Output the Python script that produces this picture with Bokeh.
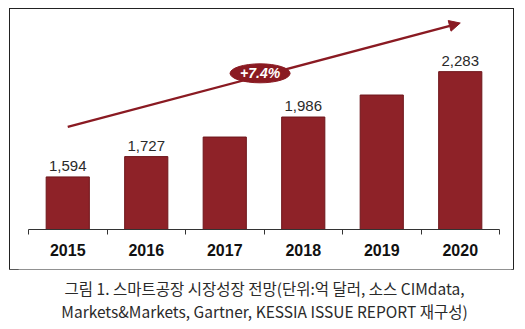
from bokeh.plotting import figure
from bokeh.models import (Range1d, FixedTicker, Arrow, NormalHead, Label,
                          ColumnDataSource)
from bokeh.layouts import column
from bokeh.embed import file_html
from bokeh.resources import INLINE

# ---- data ----
years = ["2015", "2016", "2017", "2018", "2019", "2020"]
values = [1594, 1727, 1855, 1986, 2130, 2283]
value_labels = ["1,594", "1,727", "", "1,986", "", "2,283"]
growth_label = "+7.4%"
arrow_start = (0.5, 1921)
arrow_end = (5.5, 2601)
badge_pos = (2.95, 2272)
caption_1 = "그림 1. 스마트공장 시장성장 전망(단위:억 달러, 소스 CIMdata,"
caption_2 = "Markets&Markets, Gartner, KESSIA ISSUE REPORT 재구성)"

RED = "#8e2228"
DARK = "#8a1a22"
Y0 = 1250

xs = [i + 0.5 for i in range(len(years))]
src = ColumnDataSource(dict(x=xs, top=values, lab=value_labels))

p = figure(width=503, height=260, output_backend="svg", toolbar_location=None,
           x_range=Range1d(0, 6), y_range=Range1d(Y0, 2670),
           min_border_left=18, min_border_right=14, min_border_top=3,
           min_border_bottom=40)
p.margin = (9, 0, 0, 10)
p.styles = {"outline": "1.5px solid #222222"}
p.outline_line_color = None
p.grid.grid_line_color = None
p.yaxis.visible = False

p.vbar(x="x", top="top", bottom=Y0, width=0.55, source=src,
       fill_color=RED, line_color="#6e161b", line_width=1)
p.text(x="x", y="top", text="lab", source=src, text_align="center",
       text_baseline="bottom", y_offset=-6, text_font_size="15px",
       text_color="#2a2a2a", text_font={"value": "Liberation Sans"})

arrow = Arrow(end=NormalHead(size=11, fill_color=DARK, line_color=DARK),
              x_start=arrow_start[0], y_start=arrow_start[1],
              x_end=arrow_end[0], y_end=arrow_end[1],
              line_color=DARK, line_width=2.4)
p.add_layout(arrow)

p.ellipse(x=[badge_pos[0]], y=[badge_pos[1]], width=[60], height=[19],
          width_units="screen", height_units="screen",
          fill_color=DARK, line_color=DARK, level="annotation")
p.add_layout(Label(x=badge_pos[0], y=badge_pos[1], text=growth_label,
                   text_align="center", text_baseline="middle",
                   text_color="white", text_font_size="14px",
                   text_font_style="bold italic",
                   text_font="Liberation Sans"))

ax = p.xaxis[0]
ax.ticker = FixedTicker(ticks=xs, minor_ticks=list(range(7)))
ax.major_label_overrides = {x: y for x, y in zip(xs, years)}
ax.major_tick_out = 0
ax.major_tick_in = 0
ax.minor_tick_out = 5
ax.minor_tick_in = 0
ax.axis_line_color = "#333333"
ax.minor_tick_line_color = "#333333"
ax.major_label_text_font = "Liberation Sans"
ax.major_label_text_font_style = "bold"
ax.major_label_text_font_size = "16px"
ax.major_label_text_color = "#111111"
ax.major_label_standoff = 9

# caption figure
c = figure(width=525, height=60, output_backend="svg", toolbar_location=None,
           x_range=Range1d(0, 525), y_range=Range1d(0, 60),
           min_border=0)
c.axis.visible = False
c.grid.grid_line_color = None
c.outline_line_color = None
c.margin = (0, 0, 0, 0)
for txt, yy in [(caption_1, 42), (caption_2, 19)]:
    c.add_layout(Label(x=262, y=yy, text=txt, text_align="center",
                       text_baseline="middle", text_font="Noto Sans CJK KR",
                       text_font_size="15.5px", text_color="#2a2a2a"))

layout = column(p, c, spacing=0)
open("out.html", "w").write(file_html(layout, INLINE))
